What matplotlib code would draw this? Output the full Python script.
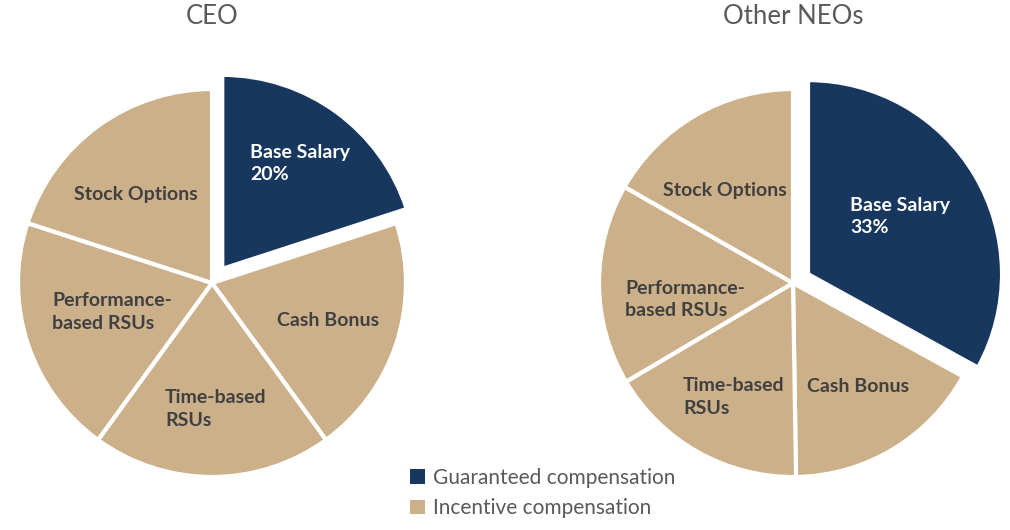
import matplotlib.pyplot as plt
from matplotlib.patches import Patch

# data
slices = ['Base Salary', 'Cash Bonus', 'Time-based RSUs', 'Performance-based RSUs', 'Stock Options']
ceo_pct = [20, 20, 20, 20, 20]
neo_pct = [33, 16.75, 16.75, 16.75, 16.75]
ceo_labels = ['Base Salary\n20%', 'Cash Bonus', 'Time-based\nRSUs', 'Performance-\nbased RSUs', 'Stock Options']
neo_labels = ['Base Salary\n33%', 'Cash Bonus', 'Time-based\nRSUs', 'Performance-\nbased RSUs', 'Stock Options']
titles = ['CEO', 'Other NEOs']
legend_labels = ['Guaranteed compensation', 'Incentive compensation']

NAVY = '#17375E'
TAN = '#CCB08A'
GRAY = '#595959'
colors = [NAVY, TAN, TAN, TAN, TAN]

plt.rcParams['font.family'] = ['Lato', 'DejaVu Sans']

W, H = 1010, 530
R = 194.0  # pie radius in px
fig = plt.figure(figsize=(W / 100, H / 100), dpi=100)


def make_ax(cx, cy, half=230):
    ax = fig.add_axes([(cx - half) / W, (H - cy - half) / H, 2 * half / W, 2 * half / H])
    ax.set_aspect('equal')
    ax.axis('off')
    return ax


# label positions (pie radius units) and alignment
ceo_pos = [(0.196, 0.616, 'left'), (0.598, -0.191, 'center'), (-0.242, -0.649, 'left'),
           (-0.825, -0.149, 'left'), (-0.392, 0.454, 'center')]
neo_pos = [(0.294, 0.343, 'left'), (0.335, -0.536, 'center'), (-0.567, -0.588, 'left'),
           (-0.866, -0.085, 'left'), (-0.351, 0.479, 'center')]

for cx, vals, labels, pos, title in [(212, ceo_pct, ceo_labels, ceo_pos, titles[0]),
                                     (793, neo_pct, neo_labels, neo_pos, titles[1])]:
    ax = make_ax(cx, 283)
    ax.pie(vals, colors=colors, startangle=90, counterclock=False,
           explode=[0.09, 0, 0, 0, 0], radius=1,
           wedgeprops=dict(edgecolor='white', linewidth=3))
    ax.set_xlim(-230 / R, 230 / R)
    ax.set_ylim(-230 / R, 230 / R)
    for i, lab in enumerate(labels):
        x, y, ha = pos[i]
        ax.text(x, y, lab, ha=ha, va='center', fontsize=14, fontweight='bold',
                color='white' if i == 0 else '#404040', linespacing=1.38)
    fig.text(cx / W, 1 - 17 / H, title, ha='center', va='center', fontsize=18.5, color=GRAY)

handles = [Patch(facecolor=NAVY), Patch(facecolor=TAN)]
fig.legend(handles, legend_labels, loc='upper left', bbox_to_anchor=(410 / W, 1 - 468 / H),
           frameon=False, fontsize=15, labelcolor=GRAY, handlelength=0.7, handleheight=0.7,
           handletextpad=0.4, labelspacing=0.5, borderaxespad=0, borderpad=0)

fig.savefig('out.png', dpi=100)
